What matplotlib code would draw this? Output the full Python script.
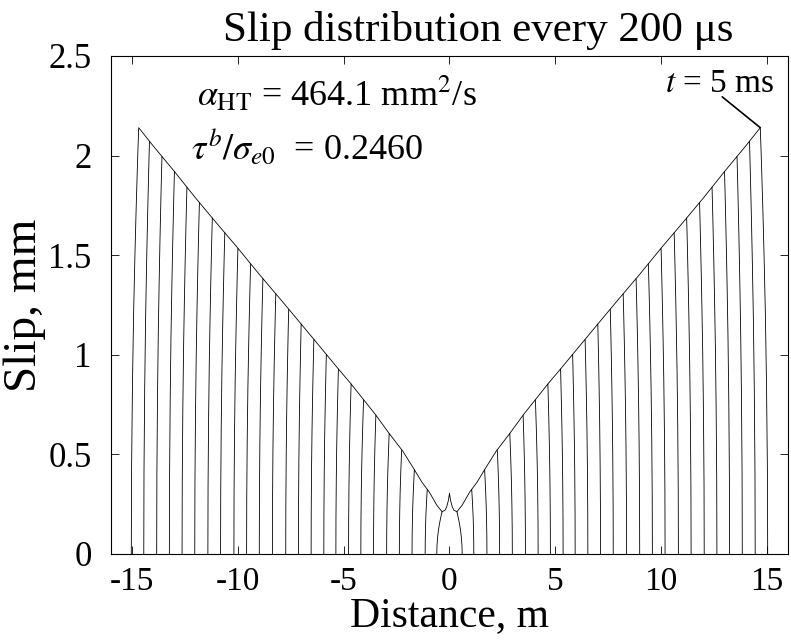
import numpy as np
import matplotlib
matplotlib.use('Agg')
import matplotlib.pyplot as plt

plt.rcParams['font.family'] = ['Liberation Serif', 'DejaVu Serif']
plt.rcParams['mathtext.fontset'] = 'stix'
plt.rcParams['axes.unicode_minus'] = False

# final slip envelope vs distance from the hypocentre (symmetric), mm
env_x = [0.0, 0.05, 0.13, 0.21, 0.35, 0.6, 0.95, 1.3, 1.7, 2.2, 2.85, 3.5,
         4.1, 4.7, 5.3, 6.0, 7.0, 8.0, 9.0, 10.0, 11.0, 12.0, 13.0, 14.0, 14.75]
env_s = [0.305, 0.27, 0.237, 0.22, 0.212, 0.245, 0.31, 0.36, 0.43, 0.515,
         0.605, 0.70, 0.78, 0.86, 0.935, 1.025, 1.153, 1.28, 1.405, 1.535,
         1.66, 1.787, 1.92, 2.048, 2.148]

# crack tip (zero slip) and peak-slip positions every 200 us, t = 0.2 ... 5 ms
tip_x = [0.60, 1.15, 1.77, 2.37, 2.97, 3.59, 4.19, 4.77, 5.37, 5.94, 6.54,
         7.14, 7.74, 8.37, 8.99, 9.59, 10.19, 10.82, 11.42, 12.04, 12.64,
         13.24, 13.84, 14.45, 15.04]
peak_x = [0.35, 1.05, 1.66, 2.26, 2.85, 3.48, 4.06, 4.65, 5.25, 5.82, 6.41,
          7.01, 7.60, 8.21, 8.82, 9.40, 10.00, 10.62, 11.21, 11.82, 12.41,
          13.00, 13.59, 14.18, 14.69]

# shape of the slip drop at the tip: fraction of peak slip vs fraction of tip width
tip_h = [1.0, 0.95, 0.9, 0.8, 0.7, 0.57, 0.4, 0.2, 0.0]
tip_f = [0.0, 0.1, 0.19, 0.36, 0.51, 0.68, 0.84, 0.96, 1.0]

env_x = np.array(env_x)
env_s = np.array(env_s)
tip_h = np.array(tip_h)
tip_f = np.array(tip_f)


def half_profile(a, p, start):
    # slip from |x| = start out to the tip; behind the tip it stays on the envelope
    s_p = np.interp(p, env_x, env_s)
    keep = (env_x >= start) & (env_x < p)
    x = np.concatenate([[start], env_x[keep], [p], p + tip_f * (a - p)])
    s = np.concatenate([[np.interp(start, env_x, env_s)], env_s[keep],
                        [s_p], tip_h * s_p])
    return x, s


fig = plt.figure(figsize=(7.91, 6.42), dpi=100)
ax = fig.add_axes([0.1403, 0.1371, 0.8559, 0.7757])

# each profile only adds the part beyond the previous peak (the rest overlaps)
prev = 0.0
for a, p in zip(tip_x, peak_x):
    x, s = half_profile(a, p, prev)
    if prev == 0.0:
        x = np.concatenate([-x[::-1], x])
        s = np.concatenate([s[::-1], s])
        ax.plot(x, s, color='black', lw=0.6)
    else:
        ax.plot(x, s, color='black', lw=0.6)
        ax.plot(-x, s, color='black', lw=0.6)
    prev = p

ax.set_xlim(-16, 16)
ax.set_ylim(0, 2.5)
ax.set_xticks([-15, -10, -5, 0, 5, 10, 15])
ax.set_yticks([0, 0.5, 1, 1.5, 2, 2.5])
ax.set_yticklabels(['0', '0.5', '1', '1.5', '2', '2.5'])
ax.tick_params(direction='in', top=True, right=True, length=6, width=0.6,
               labelsize=25)
ax.tick_params(axis='y', pad=14)
ax.tick_params(axis='x', pad=9, labelsize=24)
for sp in ax.spines.values():
    sp.set_linewidth(0.8)

ax.set_title('Slip distribution every 200 μs', fontsize=31, pad=11, x=0.542)
ax.set_xlabel('Distance, m', fontsize=30, labelpad=0)
ax.set_ylabel('Slip, mm', fontsize=34, labelpad=2)

ax.text(-11.94, 2.25, r'$\alpha_{\mathrm{HT}}$ = 464.1 mm$^2$/s', fontsize=26)
ax.text(-12.23, 1.984, r'$\tau^b/\sigma_{e0}$  = 0.2460', fontsize=26)

s_end = np.interp(peak_x[-1], env_x, env_s)
ax.annotate('', xy=(peak_x[-1], s_end), xytext=(12.89, 2.295),
            arrowprops=dict(arrowstyle='-', color='black', lw=1.2,
                            shrinkA=0, shrinkB=0))
ax.text(15.36, 2.32, '$t$ = 5 ms', fontsize=24, ha='right')

fig.savefig('out.png', dpi=100)
